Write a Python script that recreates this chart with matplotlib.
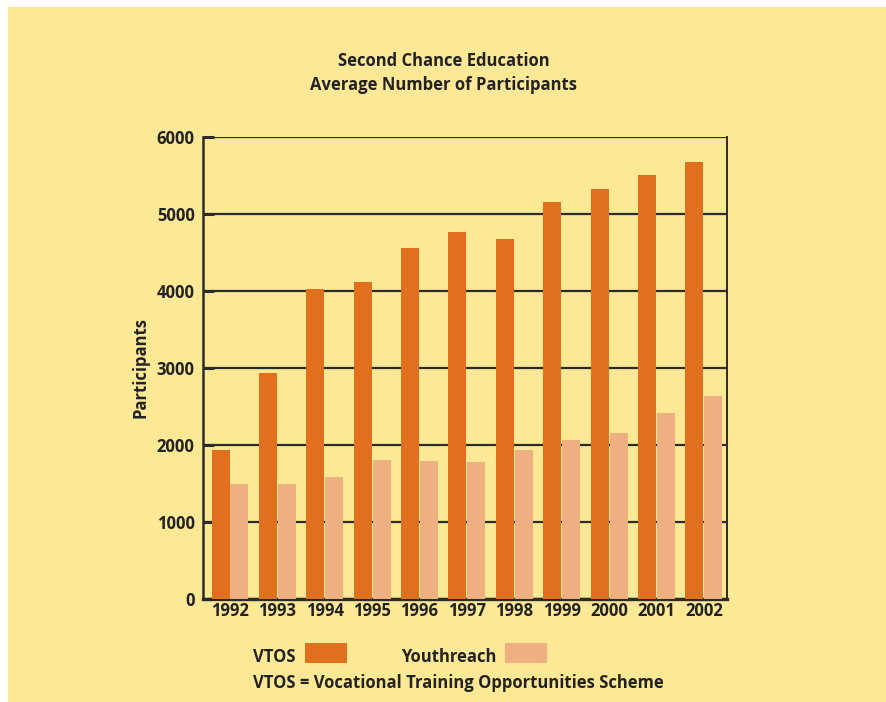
import numpy as np
import matplotlib.pyplot as plt
from matplotlib.patches import Rectangle

years = ['1992', '1993', '1994', '1995', '1996', '1997', '1998', '1999', '2000', '2001', '2002']
vtos = [1940, 2940, 4020, 4120, 4560, 4770, 4670, 5150, 5330, 5510, 5670]
youthreach = [1500, 1490, 1580, 1800, 1790, 1780, 1930, 2070, 2160, 2410, 2640]

bg = '#FDE895'
c_vtos = '#E0701E'
c_youth = '#EFB081'
dark = '#2b2b2b'
txt = '#222222'

plt.rcParams['font.family'] = ['Open Sans', 'DejaVu Sans']
plt.rcParams['font.weight'] = 'bold'

fig = plt.figure(figsize=(8.86, 7.02), dpi=100, facecolor='white')
fig.patches.append(Rectangle((8/886, -0.01), 1.1, 1.01 - 7/702, transform=fig.transFigure,
                             facecolor=bg, edgecolor='none', zorder=-10))

ax = fig.add_axes([203/886, 1 - 599/702, 524/886, 462/702])
ax.set_facecolor(bg)

x = np.arange(len(years))
w = 0.38
ax.bar(x - w/2 - 0.01, vtos, w, color=c_vtos, zorder=3)
ax.bar(x + w/2 + 0.01, youthreach, w, color=c_youth, zorder=3)

ax.set_xlim(-0.57, len(years) - 1 + 0.49)
ax.set_ylim(0, 6000)
ax.set_yticks(range(0, 6001, 1000))
ax.yaxis.grid(True, color=dark, linewidth=1.6, zorder=1)
ax.set_axisbelow(True)
ax.set_xticks(x)
ax.set_xticklabels(years, fontsize=12, fontweight='bold', color=txt)
ax.tick_params(axis='x', length=0, pad=2)
ax.tick_params(axis='y', direction='in', length=8, width=2.2, color=dark,
               labelsize=12, labelcolor=txt, pad=6)
for t in ax.get_yticklabels():
    t.set_fontweight('bold')

ax.spines['top'].set_visible(False)
ax.spines['left'].set_color(dark)
ax.spines['left'].set_linewidth(1.8)
ax.spines['bottom'].set_color(dark)
ax.spines['bottom'].set_linewidth(2.4)
ax.spines['right'].set_color(dark)
ax.spines['right'].set_linewidth(1.4)

ax.set_ylabel('Participants', fontsize=12, fontweight='bold', color=txt, labelpad=5)

fig.text(444/886, 1 - 61/702, 'Second Chance Education', ha='center', va='center',
         fontsize=12, fontweight='bold', color=txt)
fig.text(444/886, 1 - 85/702, 'Average Number of Participants', ha='center', va='center',
         fontsize=12, fontweight='bold', color=txt)

# legend drawn by hand
fig.text(253/886, 1 - 657/702, 'VTOS', ha='left', va='center', fontsize=12,
         fontweight='bold', color=txt)
fig.patches.append(Rectangle((305/886, 1 - 663/702), 42/886, 20/702,
                             transform=fig.transFigure, facecolor=c_vtos, edgecolor='none'))
fig.text(401/886, 1 - 657/702, 'Youthreach', ha='left', va='center', fontsize=12,
         fontweight='bold', color=txt)
fig.patches.append(Rectangle((505/886, 1 - 663/702), 42/886, 20/702,
                             transform=fig.transFigure, facecolor=c_youth, edgecolor='none'))
fig.text(253/886, 1 - 683/702, 'VTOS = Vocational Training Opportunities Scheme',
         ha='left', va='center', fontsize=12, fontweight='bold', color=txt)

fig.savefig('out.png', dpi=100, facecolor=fig.get_facecolor())
